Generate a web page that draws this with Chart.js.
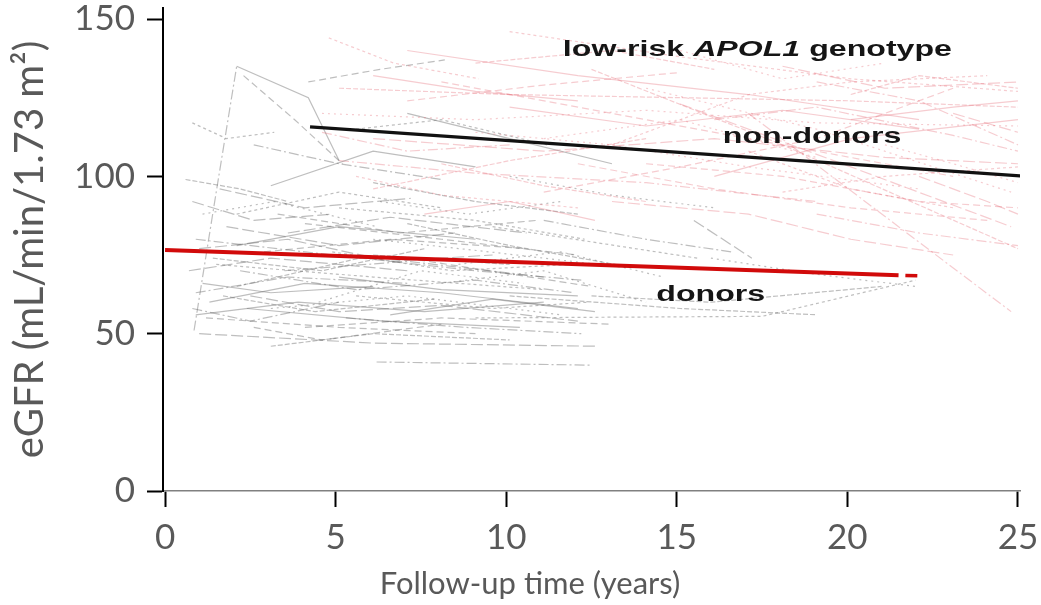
<!DOCTYPE html>
<html><head><meta charset="utf-8">
<script src="https://cdn.jsdelivr.net/npm/chart.js@4"></script>
<style>html,body{margin:0;padding:0;background:#fff;}canvas{display:block}</style>
</head><body>
<canvas id="c" width="1041" height="605"></canvas>
<script>
// ---- data ----
const xTicks = [0, 5, 10, 15, 20, 25];
const yTicks = [0, 50, 100, 150];
const nonDonorTrend = [[4.25, 115.7], [25.1, 100.1]];
const donorTrend = [[0, 76.6], [21.5, 68.6]];
const donorTrendTail = [[21.7, 68.5], [22.05, 68.4]];

const donorTracks = [
 [[0.85,51],[1.5,95],[2.1,135]],
 [[2.1,135],[4.2,125],[5.1,105]],
 [[2.3,132],[3.8,118],[5.2,104]],
 [[0.8,117],[1.8,112],[3.2,114]],
 [[0.6,99],[2.2,96],[3.6,92]],
 [[1.1,88],[3.2,92],[6.2,84]],
 [[1.6,96],[4.1,90],[7.2,93]],
 [[2.6,110],[5.1,104],[8.1,99]],
 [[3.1,97],[6.1,108],[9.1,103]],
 [[4.2,130],[6.3,134],[8.2,137]],
 [[5.6,115],[8.1,118],[11.2,110]],
 [[6.1,98],[9.1,92],[12.1,88]],
 [[10.1,100],[13.1,94],[16.1,90]],
 [[0.7,70],[3.1,74],[7.1,70]],
 [[0.9,80],[4.1,76],[9.1,70],[12.2,67]],
 [[1.3,60],[4.1,66],[8.1,63],[12.1,58]],
 [[1.2,55],[5.1,52],[9.1,50]],
 [[1.5,72],[6.1,68],[11.1,64]],
 [[2.1,65],[6.1,75],[10.1,72]],
 [[3.1,58],[7.1,62],[11.6,56]],
 [[1,50],[6.1,47],[12.7,46]],
 [[6.2,41],[12.5,40]],
 [[2.1,78],[5.1,84],[9.1,80]],
 [[4.1,85],[8.1,80],[12.1,75]],
 [[5.1,90],[9.1,86],[12.3,80]],
 [[7.1,85],[10.1,78],[13.2,72]],
 [[8.1,66],[11.1,70],[14.1,60]],
 [[2.5,62],[5.1,57],[8.1,59],[12.1,54]],
 [[3.5,70],[7.1,73],[11.1,68]],
 [[1.1,66],[3.1,63],[6.1,65]],
 [[4.1,52],[8.1,55],[13.1,53]],
 [[9.1,55],[17.5,55.5],[22,67]],
 [[10.1,62],[15.1,58],[19.1,56]],
 [[6.1,80],[9.5,76],[13.5,71]],
 [[1.8,84],[5.1,78],[8.5,82]],
 [[0.8,58],[2.5,54],[5.1,60]],
 [[5.1,68],[8.1,64],[12.1,62]],
 [[7.1,74],[10.1,69],[12.5,65]],
 [[2.1,88],[5.1,95],[8.1,90]],
 [[3.1,46],[6.1,50],[10.1,48]],
 [[4.5,60],[7.5,70],[10.5,66]],
 [[15.5,86],[17.2,74]],
 [[11.1,86],[14.1,80],[16.6,76]],
 [[7.1,120],[10.1,112],[13.1,104]],
 [[2.9,76],[6.6,80],[10.6,77]],
 [[5.6,62],[9.6,58],[12.4,60]],
 [[1.4,74],[4.6,70],[7.6,77]],
 [[8.6,72],[11.6,76],[14.6,68]],
 [[3.6,82],[6.6,87],[10.6,82]],
 [[0.9,63],[3.6,68],[7.1,66]],
 [[6.6,56],[9.6,61],[12.6,57]],
 [[2.6,52],[4.6,48],[8.1,53]],
 [[9.6,84],[12.6,79],[15.6,74]],
 [[12.5,62],[16,60],[21,65]],
 [[16,74],[19,69],[22,65]],
 [[1.0,77],[3.6,80],[6.6,73],[9.6,75]],
 [[2.2,70],[5.6,64],[9.1,67],[12.0,63]],
 [[0.9,56],[3.9,60],[7.6,57],[11.1,60]],
 [[3.3,88],[6.9,82],[10.9,86]],
 [[4.9,76],[8.4,70],[11.9,72]],
 [[1.7,62],[4.4,57],[7.9,61]],
 [[6.3,92],[8.9,88],[11.6,92]],
 [[0.8,92],[2.6,86],[4.9,88]],
 [[5.3,55],[8.8,52],[12.2,50]],
 [[2.4,58],[6.4,54],[10.4,52]]
];

const nonDonorTracks = [
 [[4.8,144],[6.7,136],[9.2,131]],
 [[5.1,128],[10.1,126],[15.1,125],[20.1,124],[25,122]],
 [[4.6,120],[9.1,118],[14.1,121],[19.1,117],[25,116]],
 [[6.1,112],[11.1,108],[16.1,112],[21.1,106],[25,104]],
 [[5.1,105],[9.1,101],[14.1,98],[19.1,92]],
 [[7.1,140],[12.1,132],[17.1,126],[22.1,118]],
 [[8.1,130],[13.1,120],[18.1,110],[23.1,100]],
 [[10.1,146],[15.1,138],[20.1,131],[25,127]],
 [[12.5,134],[18.1,110],[25,77]],
 [[14.1,128],[19.1,115],[24.8,95]],
 [[15.1,123],[20.1,103],[24.8,84]],
 [[17.1,120],[21.5,84],[24.8,57]],
 [[16.1,100],[20.1,112],[25,118]],
 [[11.1,95],[15.1,103],[19.1,112],[23.1,128]],
 [[13.1,110],[17.1,126],[20.1,130],[24.1,132]],
 [[6.1,96],[10.1,105],[14.1,112]],
 [[9.1,114],[13.1,110],[17.1,103],[22.1,96]],
 [[18.1,135],[21.1,128],[25,130]],
 [[19.1,130],[22.1,124],[25,110]],
 [[20.1,118],[23.1,122],[25,124]],
 [[7.1,124],[11.1,129],[15.1,133]],
 [[5.6,100],[8.1,94],[12.1,90]],
 [[8.1,104],[11.1,97],[14.1,92]],
 [[21.1,110],[23.1,104],[25,98]],
 [[22.1,100],[24.1,92],[25,88]],
 [[16.1,118],[19.1,122],[23.1,113],[25,108]],
 [[10.1,122],[14.1,116],[18.1,121],[22.1,115]],
 [[12.1,104],[16.1,96],[20.1,90],[24.1,86]],
 [[18.1,95],[21.1,100],[25,103]],
 [[9.1,136],[13.1,140],[16.1,134]],
 [[15.1,140],[18.1,131],[21.1,136]],
 [[23.1,120],[25,114]],
 [[4.6,114],[7.1,108],[10.1,110]],
 [[6.1,132],[9.1,127],[12.1,124]],
 [[14.1,104],[18.1,100],[22.1,92],[25,90]],
 [[17.1,108],[20.1,96],[23.1,90]],
 [[20.1,126],[22.1,132],[25,128]],
 [[11.1,112],[15.1,118],[19.1,106]],
 [[13.1,92],[17.1,88],[20.1,80],[23.1,75]],
 [[19.1,88],[22.1,82],[25,78]],
 [[7.6,88],[10.1,92],[12.6,86]]
];

// annotation texts with anchor (data coords, left/baseline)
const annotations = [
 {parts:[{t:'low-risk ',i:false},{t:'APOL1',i:true},{t:' genotype',i:false}], x:11.66, y:138.2},
 {parts:[{t:'non-donors',i:false}], x:16.35, y:110.6},
 {parts:[{t:'donors',i:false}], x:14.4, y:60.5}
];

// ---- styles ----
const dashStyles = [[10,3,2,3], [], [7,4], [3,3], [5,2], [2,4], [12,4]];
const toXY = arr => arr.map(([x,y]) => ({x, y}));

const datasets = [];
datasets.push({label:'non-donors trend', data: toXY(nonDonorTrend), borderColor:'#111', borderWidth:3.2, order:0});
datasets.push({label:'donors trend', data: toXY(donorTrend), borderColor:'#d10a0a', borderWidth:4, order:0});
datasets.push({label:'donors trend tail', data: toXY(donorTrendTail), borderColor:'#d10a0a', borderWidth:3.5, order:0});
donorTracks.forEach((t, i) => datasets.push({
  label:'donor ' + (i+1), data: toXY(t), borderColor:'rgba(100,100,100,0.42)', borderWidth:1.2,
  borderDash: dashStyles[i % dashStyles.length], order:2
}));
nonDonorTracks.forEach((t, i) => datasets.push({
  label:'non-donor ' + (i+1), data: toXY(t), borderColor:'rgba(228,100,112,0.33)', borderWidth:1.2,
  borderDash: dashStyles[(i+3) % dashStyles.length], order:1
}));
datasets.forEach(d => { d.showLine = true; d.pointRadius = 0; d.pointHoverRadius = 0; d.fill = false; d.tension = 0; });

const textPlugin = {
  id: 'texts',
  afterDraw(chart) {
    const ctx = chart.ctx, xs = chart.scales.x, ys = chart.scales.y;
    ctx.save();
    // x axis title
    ctx.fillStyle = '#595959';
    ctx.font = '31px Lato';
    ctx.textAlign = 'center';
    ctx.textBaseline = 'alphabetic';
    ctx.fillText('Follow-up time (years)', 530, 594);
    // annotations (horizontally stretched like the source figure)
    ctx.fillStyle = '#151515';
    ctx.textAlign = 'left';
    const sx = 1.46;
    annotations.forEach(a => {
      const px = xs.getPixelForValue(a.x), py = ys.getPixelForValue(a.y);
      ctx.save();
      ctx.translate(px, py);
      ctx.scale(sx, 1);
      let cx = 0;
      a.parts.forEach(p => {
        ctx.font = (p.i ? 'italic ' : '') + 'bold 22px "Liberation Sans", Arial, sans-serif';
        ctx.fillText(p.t, cx, 0);
        cx += ctx.measureText(p.t).width;
      });
      ctx.restore();
    });
    ctx.restore();
  }
};

const tickFont = {family: 'Lato', size: 35};
const chart = new Chart(document.getElementById('c'), {
  type: 'scatter',
  data: {datasets},
  options: {
    responsive: false, animation: false, devicePixelRatio: 1,
    layout: {padding: {top: 8, right: 21, bottom: 0, left: 0}},
    plugins: {legend: {display: false}, tooltip: {enabled: false}},
    events: [],
    scales: {
      x: {
        type: 'linear', min: -0.06, max: 25.06,
        afterBuildTicks: s => { s.ticks = xTicks.map(v => ({value: v})); },
        afterFit: s => { s.height = 114; s.paddingLeft = 0; s.paddingRight = 0; },
        ticks: {font: tickFont, color: '#595959', padding: 10, maxRotation: 0, autoSkip: false},
        grid: {display: true, drawOnChartArea: false, drawTicks: true, tickLength: 16, tickColor: '#000', tickWidth: 2},
        border: {display: true, color: '#808080', width: 1.5}
      },
      y: {
        type: 'linear', min: 0, max: 153.5,
        afterBuildTicks: s => { s.ticks = yTicks.map(v => ({value: v})); },
        afterFit: s => { s.width = 163; s.paddingTop = 0; s.paddingBottom = 0; },
        ticks: {font: tickFont, color: '#595959', padding: 12},
        grid: {display: true, drawOnChartArea: false, drawTicks: true, tickLength: 16, tickColor: '#000', tickWidth: 2},
        border: {display: true, color: '#000', width: 2},
        title: {display: true, text: 'eGFR (mL/min/1.73 m²)', color: '#595959', font: {family: 'Lato', size: 40}, padding: {top: 6, bottom: 0}}
      }
    }
  },
  plugins: [textPlugin]
});
if (document.fonts) {
  Promise.all([
    document.fonts.load('35px Lato'),
    document.fonts.load('bold 22px "Liberation Sans"'),
    document.fonts.load('italic bold 22px "Liberation Sans"')
  ]).then(() => chart.update()).catch(() => {});
}
</script>
</body></html>
